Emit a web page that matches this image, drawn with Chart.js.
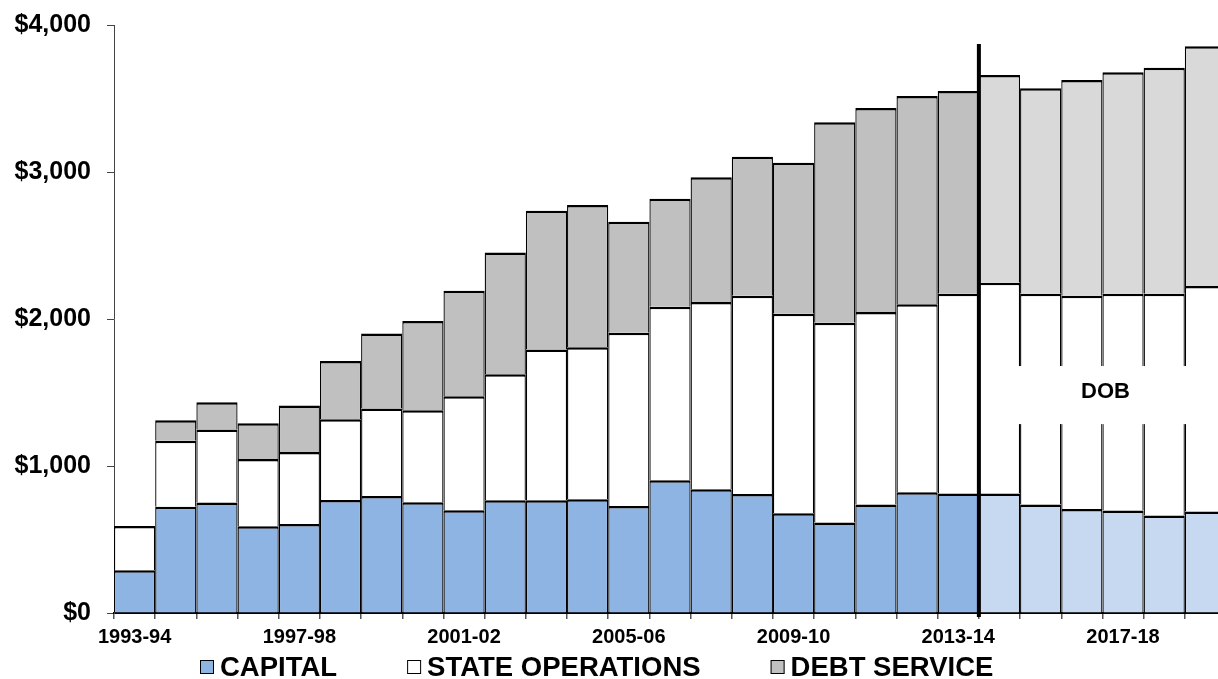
<!DOCTYPE html>
<html>
<head>
<meta charset="utf-8">
<title>Spending by category, 1993-94 to 2019-20</title>
<script src="https://cdn.jsdelivr.net/npm/chart.js@4.4.1/dist/chart.umd.min.js"></script>
<style>
  html, body { margin: 0; padding: 0; background: #fff; overflow: hidden; }
  #wrap { position: relative; width: 1218px; height: 679px; overflow: hidden; }
  canvas { display: block; }
</style>
</head>
<body>
<div id="wrap"><canvas id="chart" width="1226" height="679" style="width:1226px;height:679px"></canvas></div>
<script>
// Fiscal years on the category axis
const fiscalYears = [
  '1993-94', '1994-95', '1995-96', '1996-97', '1997-98', '1998-99', '1999-00',
  '2000-01', '2001-02', '2002-03', '2003-04', '2004-05', '2005-06', '2006-07',
  '2007-08', '2008-09', '2009-10', '2010-11', '2011-12', '2012-13', '2013-14',
  '2014-15', '2015-16', '2016-17', '2017-18', '2018-19', '2019-20'
];

// Spending by category ($ millions), stacked bottom to top
const capital = [
  291, 722, 752, 590, 606, 769, 796, 754, 699, 767, 767, 774, 728, 903,
  842, 810, 679, 616, 738, 822, 813, 813, 738, 708, 697, 663, 690
];
const stateOperations = [
  301, 449, 496, 458, 490, 549, 595, 626, 776, 858, 1026, 1033, 1178, 1180,
  1273, 1348, 1356, 1358, 1309, 1279, 1359, 1433, 1434, 1450, 1475, 1509, 1534
];
const debtService = [
  null, 141, 186, 243, 316, 397, 511, 606, 717, 828, 944, 968, 756, 735,
  849, 946, 1028, 1365, 1389, 1416, 1379, 1414, 1398, 1468, 1507, 1538, 1632
];

// Axis ticks
const yTickValues = [0, 1000, 2000, 3000, 4000];
const xLabelEvery = 4;

// Years from this one on are DOB projections
const firstProjectedYear = '2014-15';
const projectionLabel = 'DOB';

const FONT = "'Liberation Sans', Arial, Helvetica, sans-serif";
Chart.defaults.font.family = FONT;
Chart.defaults.color = '#000';

const split = fiscalYears.indexOf(firstProjectedYear);
const shade = (actual, projected) => fiscalYears.map((_, i) => (i < split ? actual : projected));

const barBorder = { top: 2.5, left: 1.3, right: 1.3, bottom: 0 };
const barCommon = {
  borderColor: '#000',
  borderWidth: barBorder,
  borderSkipped: false,
  barPercentage: 1,
  categoryPercentage: 1,
  inflateAmount: 0
};

// Divider between actual and projected years, plus the projection tag
const projectionMarks = {
  id: 'projectionMarks',
  afterDatasetsDraw(chart) {
    const { ctx, scales: { x, y }, chartArea } = chart;
    const divX = (x.getPixelForValue(split - 1) + x.getPixelForValue(split)) / 2;

    // white label panel across the projected bars
    const panelTop = y.getPixelForValue(1680);
    const panelBottom = y.getPixelForValue(1285);
    ctx.save();
    ctx.fillStyle = '#fff';
    ctx.fillRect(divX + 3, panelTop, chart.width - divX, panelBottom - panelTop);

    ctx.font = 'bold 22px ' + FONT;
    ctx.fillStyle = '#000';
    ctx.textAlign = 'center';
    ctx.textBaseline = 'middle';
    const tagX = (x.getPixelForValue(split + 2) + x.getPixelForValue(split + 3)) / 2 + 3;
    ctx.fillText(projectionLabel, tagX, y.getPixelForValue(1505));

    // heavy vertical divider
    ctx.strokeStyle = '#000';
    ctx.lineWidth = 4;
    ctx.beginPath();
    ctx.moveTo(divX, y.getPixelForValue(3870));
    ctx.lineTo(divX, chartArea.bottom + 4);
    ctx.stroke();
    ctx.restore();
  }
};

// Legend row under the axis
const legendRow = {
  id: 'legendRow',
  afterDraw(chart) {
    const { ctx } = chart;
    const box = 14, gapText = 6, gapItem = 70;
    let cx = 200;
    const cy = 667;
    ctx.save();
    ctx.font = 'bold 27.5px ' + FONT;
    ctx.textBaseline = 'middle';
    ctx.textAlign = 'left';
    chart.data.datasets.forEach(ds => {
      const fill = Array.isArray(ds.backgroundColor) ? ds.backgroundColor[0] : ds.backgroundColor;
      ctx.fillStyle = fill;
      ctx.fillRect(cx, cy - box / 2, box, box);
      ctx.strokeStyle = '#000';
      ctx.lineWidth = 1;
      ctx.strokeRect(cx + 0.5, cy - box / 2 + 0.5, box - 1, box - 1);
      ctx.fillStyle = '#000';
      const tx = cx + box + gapText;
      ctx.fillText(ds.label, tx, cy + 1);
      cx = tx + ctx.measureText(ds.label).width + gapItem;
    });
    ctx.restore();
  }
};

new Chart(document.getElementById('chart'), {
  type: 'bar',
  data: {
    labels: fiscalYears,
    datasets: [
      { label: 'CAPITAL', data: capital, backgroundColor: shade('#8EB4E3', '#C6D9F1'), ...barCommon },
      { label: 'STATE OPERATIONS', data: stateOperations, backgroundColor: shade('#FFFFFF', '#FFFFFF'), ...barCommon },
      { label: 'DEBT SERVICE', data: debtService, backgroundColor: shade('#C0C0C0', '#D9D9D9'), ...barCommon }
    ]
  },
  options: {
    responsive: false,
    animation: false,
    events: [],
    layout: { padding: { top: 25, right: 0, bottom: 26, left: 0 } },
    plugins: {
      legend: { display: false },
      tooltip: { enabled: false },
      title: { display: false }
    },
    scales: {
      x: {
        stacked: true,
        offset: true,
        grid: { offset: true, drawOnChartArea: false, drawTicks: true, tickLength: 6, color: '#555', lineWidth: 1.5 },
        border: { display: true, color: '#000', width: 2 },
        ticks: {
          autoSkip: false,
          maxRotation: 0,
          minRotation: 0,
          padding: 6,
          color: '#000',
          font: { size: 20, weight: 'bold' },
          callback: (v, i) => (i % xLabelEvery === 0 ? fiscalYears[i] : '')
        },
        afterFit: s => { s.height = 40; }
      },
      y: {
        stacked: true,
        min: yTickValues[0],
        max: yTickValues[yTickValues.length - 1],
        afterBuildTicks: s => { s.ticks = yTickValues.map(v => ({ value: v })); },
        grid: { drawOnChartArea: false, drawTicks: true, tickLength: 7, color: '#444', lineWidth: 1 },
        border: { display: true, color: '#444', width: 1 },
        ticks: {
          padding: 16,
          color: '#000',
          font: { size: 25, weight: 'bold' },
          callback: v => '$' + Number(v).toLocaleString('en-US')
        },
        afterFit: s => { s.width = 114; s.paddingTop = 0; s.paddingBottom = 0; }
      }
    }
  },
  plugins: [projectionMarks, legendRow]
});
</script>
</body>
</html>
